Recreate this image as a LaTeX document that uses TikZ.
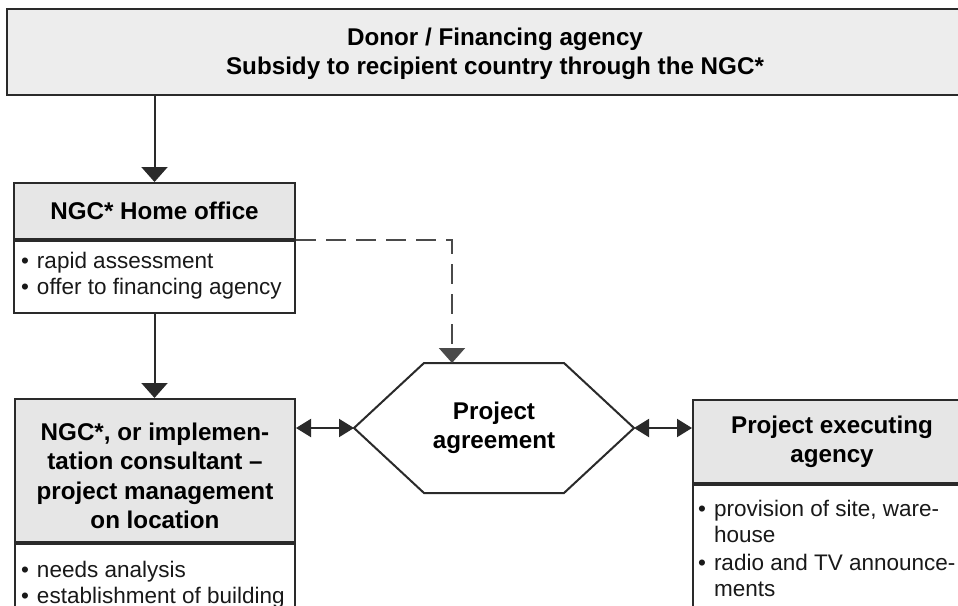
\documentclass[tikz,border=0pt]{standalone}
\usepackage{fontspec}
\setmainfont{Liberation Sans}
\usetikzlibrary{arrows.meta}
\definecolor{linecol}{HTML}{2A2A2A}
\definecolor{dashcol}{HTML}{4A4A4A}
\definecolor{hdrfill}{HTML}{E6E6E6}
\definecolor{topfill}{HTML}{EDEDED}
\newcommand\myhdrfont{\fontsize{24.2pt}{29.4pt}\selectfont\bfseries}
\newcommand\mybodyfont{\fontsize{22.5pt}{26pt}\selectfont}
\newcommand\mybul{\makebox[16pt][l]{•}}
\newcommand\myind{\hspace*{16pt}}
\begin{document}
\begin{tikzpicture}[x=1pt,y=-1pt,
  line width=2pt,
  box/.style={draw=linecol, rectangle, inner sep=0pt},
  hdr/.style={box, fill=hdrfill, font=\myhdrfont, align=center},
  bodybox/.style={box, fill=white},
  btext/.style={font=\mybodyfont, align=left, inner sep=0pt, anchor=west, text=black!90},
  arr/.style={draw=linecol, -{Triangle[length=15pt,width=26pt]}},
  dbl/.style={draw=linecol, {Triangle[length=15pt,width=18pt]}-{Triangle[length=15pt,width=18pt]}}
]
\useasboundingbox (0,0) rectangle (958,605);
\clip (0,0) rectangle (958,605);
\fill[white] (0,0) rectangle (958,605);

% top box
\node[box, fill=topfill, minimum width=976pt, minimum height=86pt] (donor) at (495,52) {};
\node[font=\myhdrfont, align=center, inner sep=0pt] (donort) at (495,54)
  {Donor / Financing agency\\Subsidy to recipient country through the NGC*};

% NGC home office
\node[hdr, minimum width=281pt, minimum height=56pt] (homeh) at (154.5,211) {NGC* Home office};
\node[bodybox, minimum width=281pt, minimum height=72pt, anchor=north] (homeb) at (homeh.south) {};
\node[btext] (homet) at (20,276) {\mybul rapid assessment\\\mybul offer to financing agency};

% NGC / consultant
\node[hdr, minimum width=280pt, minimum height=143pt] (ngch) at (155,470.5) {};
\node[font=\myhdrfont, align=center, inner sep=0pt] (ngcht) at (155,476)
  {NGC*, or implemen-\\tation consultant –\\project management\\on location};
\node[bodybox, minimum width=280pt, minimum height=110pt, anchor=north] (ngcb) at (ngch.south) {};
\node[btext] (ngct) at (20,585) {\mybul needs analysis\\\mybul establishment of building};

% project agreement hexagon
\node[inner sep=0pt, minimum width=278pt, minimum height=128pt, font=\myhdrfont, align=center] (agree) at (494,428)
  {Project\\agreement};
\draw[linecol] (agree.west) -- ([xshift=70pt]agree.north west) -- ([xshift=-70pt]agree.north east)
  -- (agree.east) -- ([xshift=-70pt]agree.south east) -- ([xshift=70pt]agree.south west) -- cycle;

% project executing agency
\node[hdr, minimum width=278pt, minimum height=83pt] (exech) at (832,441.5) {Project executing\\agency};
\node[bodybox, minimum width=278pt, minimum height=160pt, anchor=north] (execb) at (exech.south) {};
\node[btext] (exect) at (697,548)
  {\mybul provision of site, ware-\\\myind house\\[2pt]\mybul radio and TV announce-\\\myind ments};

% connectors
\draw[arr] (homeh.north |- donor.south) -- (homeh.north);
\draw[arr] (homeb.south) -- (homeb.south |- ngch.north);
\draw[arr, draw=dashcol, dash pattern=on 20pt off 10pt] (homeb.north east) -| ([xshift=-42pt]agree.north);
\draw[dbl] (agree.west -| ngch.east) -- (agree.west);
\draw[dbl] (agree.east) -- (agree.east -| exech.west);
\end{tikzpicture}
\end{document}
